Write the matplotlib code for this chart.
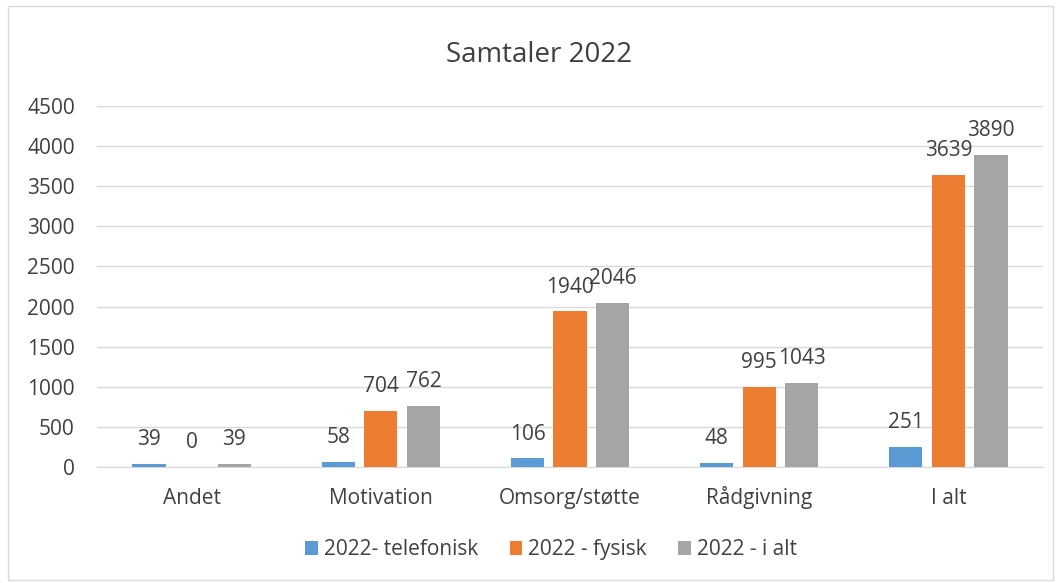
import numpy as np
import matplotlib
matplotlib.use('Agg')
import matplotlib.pyplot as plt
from matplotlib.patches import Rectangle

# ── data ──
categories = ['Andet', 'Motivation', 'Omsorg/støtte', 'Rådgivning', 'I alt']
telefonisk = [39, 58, 106, 48, 251]
fysisk = [0, 704, 1940, 995, 3639]
i_alt = [39, 762, 2046, 1043, 3890]
series_names = ['2022- telefonisk', '2022 - fysisk', '2022 - i alt']
colors = ['#5B9BD5', '#ED7D31', '#A5A5A5']

plt.rcParams['font.family'] = ['Open Sans', 'DejaVu Sans']

fig = plt.figure(figsize=(10.6, 5.83), dpi=100)
ax = fig.add_axes([0.0915, 0.199, 0.8925, 0.619])

x = np.arange(len(categories))
w = 0.175
step = 0.225
for i, (vals, name, c) in enumerate(zip([telefonisk, fysisk, i_alt], series_names, colors)):
    bars = ax.bar(x + (i - 1) * step, vals, width=w, color=c, label=name, zorder=3)
    for b, v in zip(bars, vals):
        ax.annotate(str(v), (b.get_x() + b.get_width() / 2, v), xytext=(0, 10),
                    textcoords='offset points', ha='center', va='bottom',
                    fontsize=15, color='#404040')

ax.set_xlim(-0.5, len(categories) - 0.5)
ax.set_ylim(0, 4500)
ax.set_yticks(range(0, 4501, 500))
ax.set_xticks(x)
ax.set_xticklabels(categories)
ax.tick_params(axis='both', length=0, labelsize=15, labelcolor='#404040')
ax.tick_params(axis='x', pad=27)
ax.tick_params(axis='y', pad=16)
for lbl in ax.get_xticklabels():
    lbl.set_verticalalignment('baseline')
ax.grid(axis='y', color='#D9D9D9', linewidth=1, zorder=0)
for s in ['top', 'right', 'left']:
    ax.spines[s].set_visible(False)
ax.spines['bottom'].set_color('#D9D9D9')

fig.text(0.509, 0.905, 'Samtaler 2022', ha='center', va='center', fontsize=20, color='#404040')

handles, labels = ax.get_legend_handles_labels()
fig.legend(handles, labels, loc='center', bbox_to_anchor=(0.52, 0.057), ncol=3, frameon=False,
           fontsize=15, handlelength=0.6, handleheight=0.6, columnspacing=1.5,
           handletextpad=0.3, labelcolor='#404040')

fig.patches.append(Rectangle((0.008, 0.005), 0.985, 0.985, transform=fig.transFigure,
                             fill=False, edgecolor='#D9D9D9', linewidth=1))

fig.savefig('out.png', dpi=100)
